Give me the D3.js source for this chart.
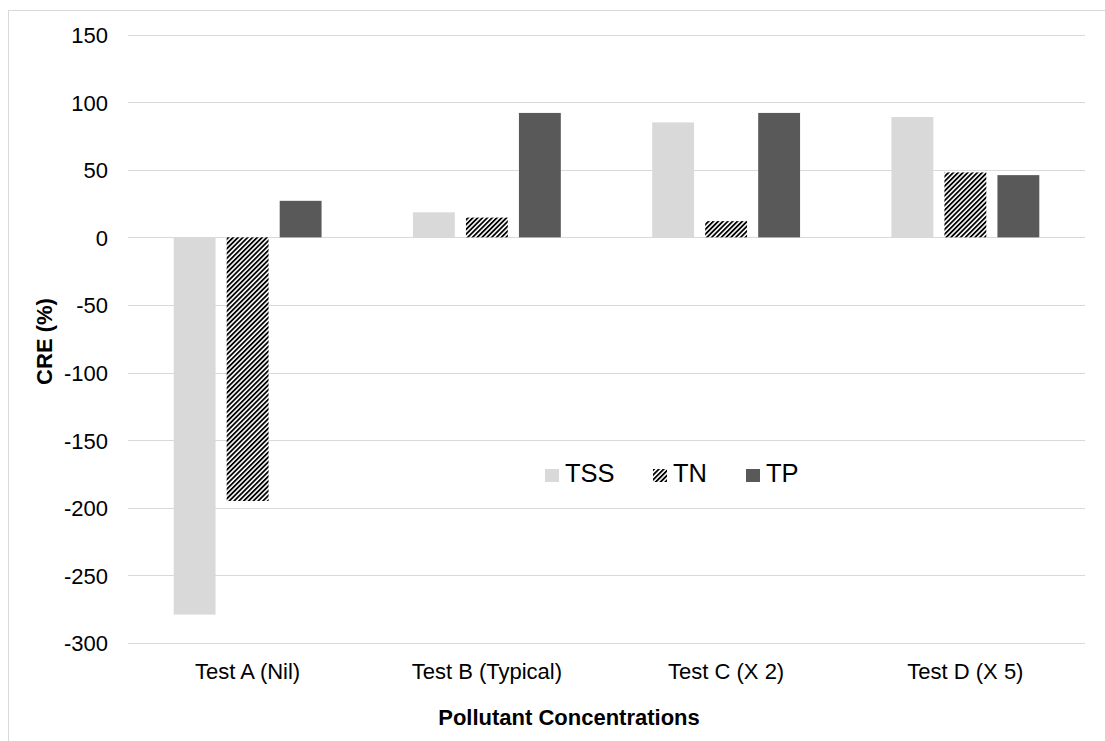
<!DOCTYPE html>
<html lang="en">
<head>
  <meta charset="UTF-8">
  <title>CRE by pollutant concentration</title>
  <script src="https://d3js.org/d3.v7.min.js"></script>
  <style>
    body { margin: 0; background: #fff; }
    text { font-family: "Liberation Sans", Arial, sans-serif; fill: #000; }
    .grid line { stroke: #d9d9d9; stroke-width: 1px; }
    .tick text { font-size: 22px; }
  </style>
</head>
<body>
  <svg width="1105" height="741"></svg>

  <script>
    const categories = ["Test A (Nil)", "Test B (Typical)", "Test C (X 2)", "Test D (X 5)"];
    const series = ["TSS", "TN", "TP"];
    const tss = [-279, 18.5, 85, 89];
    const tn = [-195, 14.6, 12, 48];
    const tp = [27, 92, 92, 46];
    const yTicks = [150, 100, 50, 0, -50, -100, -150, -200, -250, -300];

    const values = { TSS: tss, TN: tn, TP: tp };
    const plotLeft = 128, plotRight = 1085, plotTop = 34.5, plotBottom = 643;

    const svg = d3.select("svg");

    // hatch for TN
    const defs = svg.append("defs");
    defs.append("pattern")
        .attr("id", "hatch")
        .attr("patternUnits", "userSpaceOnUse")
        .attr("width", 3.4)
        .attr("height", 3.4)
        .attr("patternTransform", "rotate(45)")
      .call(p => {
        p.append("rect").attr("width", 3.4).attr("height", 3.4).attr("fill", "#fff");
        p.append("rect").attr("width", 1.8).attr("height", 3.4).attr("fill", "#000");
      });

    const fills = { TSS: "#d9d9d9", TN: "url(#hatch)", TP: "#595959" };

    // outer chart border
    svg.append("rect")
        .attr("x", 8.5).attr("y", 10.5)
        .attr("width", 1300).attr("height", 1000)
        .attr("fill", "none")
        .attr("stroke", "#d9d9d9");

    const y = d3.scaleLinear().domain([-300, 150]).range([plotBottom, plotTop]);
    const x0 = d3.scaleBand().domain(categories).range([plotLeft, plotRight]);
    const x1 = d3.scaleBand().domain(series)
        .range([0, x0.bandwidth()])
        .paddingInner(0.21)
        .paddingOuter(0.862);

    // gridlines
    svg.append("g")
        .attr("class", "grid")
        .selectAll("line")
        .data(yTicks)
        .enter().append("line")
        .attr("x1", plotLeft).attr("x2", plotRight)
        .attr("y1", d => Math.round(y(d)) + 0.5)
        .attr("y2", d => Math.round(y(d)) + 0.5);

    // y axis labels (plain hyphen minus, like the original)
    const yAxis = svg.append("g")
        .attr("transform", `translate(${plotLeft - 20},0)`)
        .call(d3.axisLeft(y).tickValues(yTicks).tickFormat(d => String(d))
          .tickSize(0).tickPadding(0));
    yAxis.select(".domain").remove();
    yAxis.selectAll("text").attr("dy", "0.36em");

    // bars
    const groups = svg.append("g")
        .selectAll("g")
        .data(categories)
        .enter().append("g")
        .attr("transform", d => `translate(${x0(d)},0)`);

    groups.selectAll("rect")
        .data((c, i) => series.map(s => ({ s: s, v: values[s][i] })))
        .enter().append("rect")
        .attr("x", d => x1(d.s))
        .attr("width", x1.bandwidth())
        .attr("y", d => y(Math.max(0, d.v)))
        .attr("height", d => Math.abs(y(d.v) - y(0)))
        .attr("fill", d => fills[d.s]);

    // x category labels
    const xAxis = svg.append("g")
        .attr("transform", `translate(0,679)`)
        .call(d3.axisBottom(x0).tickSize(0).tickPadding(0));
    xAxis.select(".domain").remove();
    xAxis.selectAll("text").attr("dy", 0).attr("y", 0);

    // axis titles
    svg.append("text")
        .attr("x", 569)
        .attr("y", 725)
        .attr("text-anchor", "middle")
        .style("font-size", "22px")
        .style("font-weight", "bold")
        .text("Pollutant Concentrations");

    svg.append("text")
        .attr("transform", `translate(52,341.5) rotate(-90)`)
        .attr("text-anchor", "middle")
        .style("font-size", "22px")
        .style("font-weight", "bold")
        .text("CRE (%)");

    // legend
    const legendX = [545, 653, 746];
    const legend = svg.append("g")
        .selectAll("g")
        .data(series)
        .enter().append("g")
        .attr("transform", (d, i) => `translate(${legendX[i]},469)`);
    legend.append("rect")
        .attr("width", 14).attr("height", 13)
        .attr("fill", d => fills[d]);
    legend.append("text")
        .attr("x", 20).attr("y", 12.7)
        .style("font-size", "25.5px")
        .text(d => d);
  </script>
</body>
</html>
